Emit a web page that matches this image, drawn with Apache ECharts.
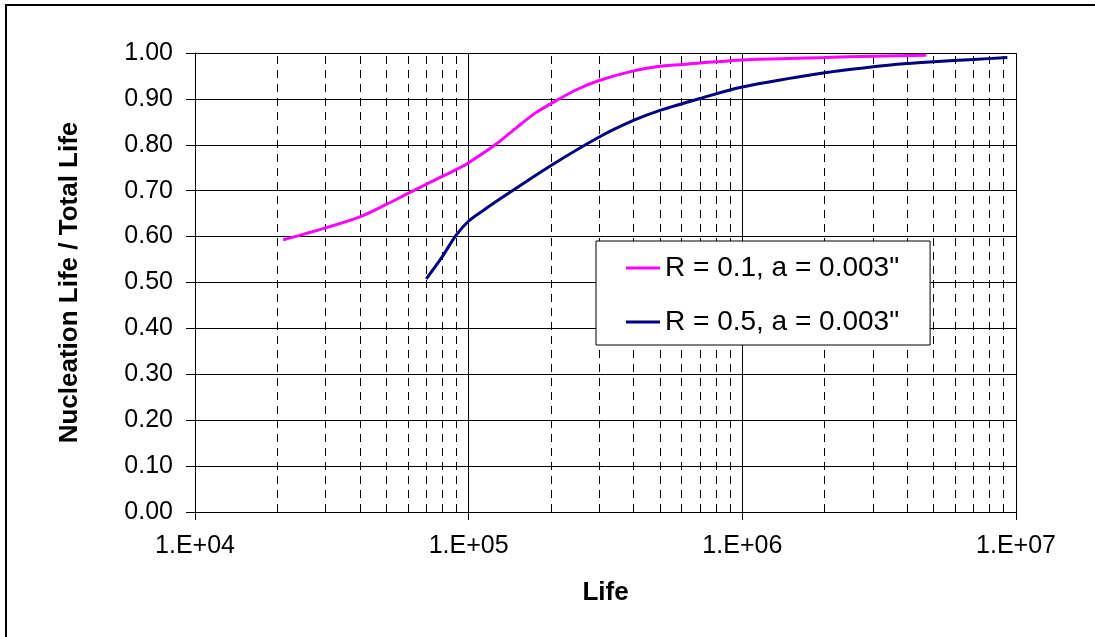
<!DOCTYPE html>
<html>
<head>
<meta charset="utf-8">
<script src="https://cdn.jsdelivr.net/npm/echarts@6/dist/echarts.min.js"></script>
<style>
  html, body { margin: 0; padding: 0; background: #fff; }
  #chart { width: 1095px; height: 637px; }
</style>
</head>
<body>
<div id="chart"></div>
<script>
// data
var lifeR01 = [2.1e4, 3e4, 4e4, 5e4, 6e4, 7e4, 8e4, 9e4, 1e5, 1.25e5, 1.5e5, 1.75e5, 2.1e5, 2.5e5, 3e5, 4e5, 5e5, 7e5, 1e6, 2e6, 3e6, 4.7e6];
var ratioR01 = [0.593, 0.619, 0.643, 0.670, 0.694, 0.714, 0.731, 0.746, 0.761, 0.800, 0.838, 0.869, 0.897, 0.921, 0.940, 0.961, 0.971, 0.978, 0.985, 0.990, 0.993, 0.995];

var lifeR05 = [7e4, 8e4, 9e4, 1e5, 1.13e5, 1.42e5, 2e5, 3e5, 4e5, 5e5, 7e5, 1e6, 2e6, 3e6, 4e6, 5e6, 7e6, 9.3e6];
var ratioR05 = [0.508, 0.556, 0.603, 0.634, 0.657, 0.697, 0.755, 0.817, 0.853, 0.875, 0.901, 0.926, 0.957, 0.970, 0.977, 0.981, 0.986, 0.990];

var seriesNames = ['R = 0.1, a = 0.003"', 'R = 0.5, a = 0.003"'];

// dashed minor grid lines of the log axis
var minorTicks = [2e4, 3e4, 4e4, 5e4, 6e4, 7e4, 8e4, 9e4,
                  2e5, 3e5, 4e5, 5e5, 6e5, 7e5, 8e5, 9e5,
                  2e6, 3e6, 4e6, 5e6, 6e6, 7e6, 8e6, 9e6];

function pairs(xs, ys) {
    return xs.map(function (x, i) { return [x, ys[i]]; });
}

var font = "'Liberation Sans', Arial, sans-serif";
var myChart = echarts.init(document.getElementById('chart'));

var option = {
    animation: false,
    backgroundColor: '#fff',
    textStyle: { fontFamily: font, color: '#000' },
    grid: { left: 195, right: 79, top: 53, bottom: 125 },
    graphic: [
        { type: 'line', shape: { x1: 6, y1: 5, x2: 6, y2: 637 }, style: { stroke: '#000', lineWidth: 2 } },
        { type: 'line', shape: { x1: 5, y1: 5, x2: 1095, y2: 5 }, style: { stroke: '#000', lineWidth: 2 } }
    ],
    legend: {
        orient: 'vertical',
        left: 596,
        top: 241,
        padding: [12, 31, 8, 30],
        itemGap: 24,
        itemWidth: 34,
        itemHeight: 3,
        icon: 'rect',
        backgroundColor: '#fff',
        borderColor: '#000',
        borderWidth: 1,
        borderRadius: 0,
        data: seriesNames,
        textStyle: { fontFamily: font, fontSize: 28, color: '#000', lineHeight: 30 }
    },
    xAxis: {
        type: 'log',
        logBase: 10,
        min: 1e4,
        max: 1e7,
        name: 'Life',
        nameLocation: 'middle',
        nameGap: 68,
        nameTextStyle: { fontFamily: font, fontSize: 26, fontWeight: 'bold', color: '#000' },
        axisLine: { lineStyle: { color: '#000', width: 1 } },
        axisTick: { show: true, length: 8, lineStyle: { color: '#000' } },
        axisLabel: {
            margin: 22,
            fontFamily: font,
            fontSize: 25,
            color: '#000',
            formatter: function (v) {
                var e = Math.round(Math.log10(v));
                return '1.E+' + (e < 10 ? '0' + e : e);
            }
        },
        splitLine: { show: true, lineStyle: { color: '#000', width: 1 } }
    },
    yAxis: {
        type: 'value',
        min: 0,
        max: 1,
        interval: 0.1,
        name: 'Nucleation Life / Total Life',
        nameLocation: 'middle',
        nameGap: 112,
        nameTextStyle: { fontFamily: font, fontSize: 26, fontWeight: 'bold', color: '#000' },
        axisLine: { show: true, lineStyle: { color: '#000', width: 1 } },
        axisTick: { show: true, length: 9, lineStyle: { color: '#000' } },
        axisLabel: {
            margin: 22,
            fontFamily: font,
            fontSize: 25,
            color: '#000',
            formatter: function (v) { return v.toFixed(2); }
        },
        splitLine: { show: true, lineStyle: { color: '#000', width: 1 } }
    },
    series: [
        {
            name: seriesNames[0],
            type: 'line',
            data: pairs(lifeR01, ratioR01),
            smooth: 0.3,
            showSymbol: false,
            symbol: 'none',
            lineStyle: { color: '#ff00ff', width: 3 },
            itemStyle: { color: '#ff00ff' },
            z: 3,
            markLine: {
                silent: true,
                symbol: 'none',
                label: { show: false },
                lineStyle: { color: '#000', width: 1, type: [8, 6] },
                data: minorTicks.map(function (v) { return { xAxis: v }; }),
                z: 1
            }
        },
        {
            name: seriesNames[1],
            type: 'line',
            data: pairs(lifeR05, ratioR05),
            smooth: 0.3,
            showSymbol: false,
            symbol: 'none',
            lineStyle: { color: '#000080', width: 3 },
            itemStyle: { color: '#000080' },
            z: 3
        }
    ]
};

myChart.setOption(option);
</script>
</body>
</html>
